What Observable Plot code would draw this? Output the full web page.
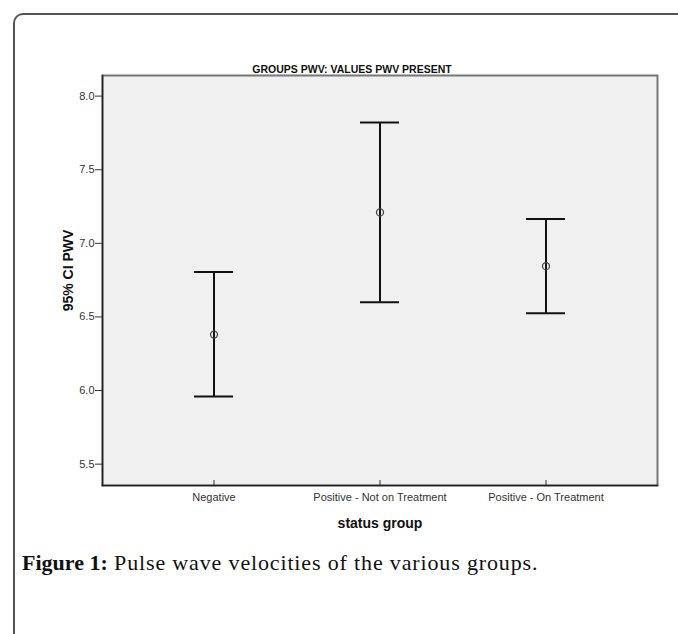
<!DOCTYPE html>
<html>
<head>
<meta charset="utf-8">
<script src="https://cdn.jsdelivr.net/npm/d3@7"></script>
<script src="https://cdn.jsdelivr.net/npm/@observablehq/plot@0.6"></script>
<style>
  html, body { margin: 0; padding: 0; background: #fff; width: 678px; height: 634px; overflow: hidden; position: relative; }
  #border { position: absolute; left: 13px; top: 13px; width: 720px; height: 720px; border: 2px solid #555; border-top-left-radius: 10px; box-sizing: border-box; }
  #chart { position: absolute; left: 0; top: 0; }
  #caption { position: absolute; left: 22px; top: 550px; font-family: "Liberation Serif", "Times New Roman", serif; font-size: 22px; letter-spacing: 0.85px; color: #111; white-space: nowrap; }
  #caption b { font-weight: bold; letter-spacing: 0; }
</style>
</head>
<body>
<div id="border"></div>
<div id="chart"></div>
<div id="caption"><b>Figure 1:</b> Pulse wave velocities of the various groups.</div>
<script>
const groups = ["Negative", "Positive - Not on Treatment", "Positive - On Treatment"];
const means = [6.38, 7.21, 6.845];
const lower = [5.96, 6.60, 6.525];
const upper = [6.805, 7.82, 7.165];
const yTicks = [5.5, 6.0, 6.5, 7.0, 7.5, 8.0];
const chartTitle = "GROUPS PWV: VALUES PWV PRESENT";
const yLabel = "95% CI PWV";
const xLabel = "status group";

const data = groups.map((g, i) => ({group: g, mean: means[i], lo: lower[i], hi: upper[i]}));

const sans = "Liberation Sans, Arial, sans-serif";
const narrow = "Liberation Sans Narrow, Arial Narrow, Liberation Sans, sans-serif";

const plot = Plot.plot({
  width: 678,
  height: 540,
  marginLeft: 102,
  marginRight: 21,
  marginTop: 75,
  marginBottom: 55,
  style: {fontFamily: sans, background: "transparent", color: "#333", overflow: "visible"},
  x: {type: "band", domain: groups, paddingInner: 0.766, paddingOuter: 0.55, label: null},
  y: {domain: [5.355, 8.14], label: null},
  marks: [
    Plot.frame({fill: "#f0f0f0", stroke: "#777", strokeWidth: 2}),
    Plot.frame({anchor: "left", stroke: "#222", strokeWidth: 1.5}),
    Plot.frame({anchor: "bottom", stroke: "#222", strokeWidth: 1.5}),
    Plot.axisY({ticks: yTicks, tickFormat: d3.format(".1f"), tickSize: 7, tickPadding: 1, fontSize: 11, stroke: "#333", label: null}),
    Plot.axisX({tickSize: -5, tickFormat: () => "", stroke: "#333", label: null}),
    Plot.axisX({tickSize: 0, tickPadding: 8, fontSize: 11, label: null}),
    Plot.ruleX(data, {x: "group", y1: "lo", y2: "hi", stroke: "#111", strokeWidth: 2}),
    Plot.tickY(data, {x: "group", y: "hi", stroke: "#111", strokeWidth: 2}),
    Plot.tickY(data, {x: "group", y: "lo", stroke: "#111", strokeWidth: 2}),
    Plot.dot(data, {x: "group", y: "mean", r: 3.5, fill: "none", stroke: "#444", strokeWidth: 1.3}),
    Plot.text([chartTitle], {frameAnchor: "top", dx: -28, dy: -10, fontWeight: "bold", fontSize: 10.5, fontFamily: narrow, fill: "#111"}),
    Plot.text([yLabel], {frameAnchor: "left", textAnchor: "middle", lineAnchor: "middle", dx: -34, dy: -10, rotate: -90, fontWeight: "bold", fontSize: 14, fill: "#111"}),
    Plot.text([xLabel], {frameAnchor: "bottom", dy: 42, fontWeight: "bold", fontSize: 14, fill: "#111"})
  ]
});
document.getElementById("chart").appendChild(plot);
</script>
</body>
</html>
